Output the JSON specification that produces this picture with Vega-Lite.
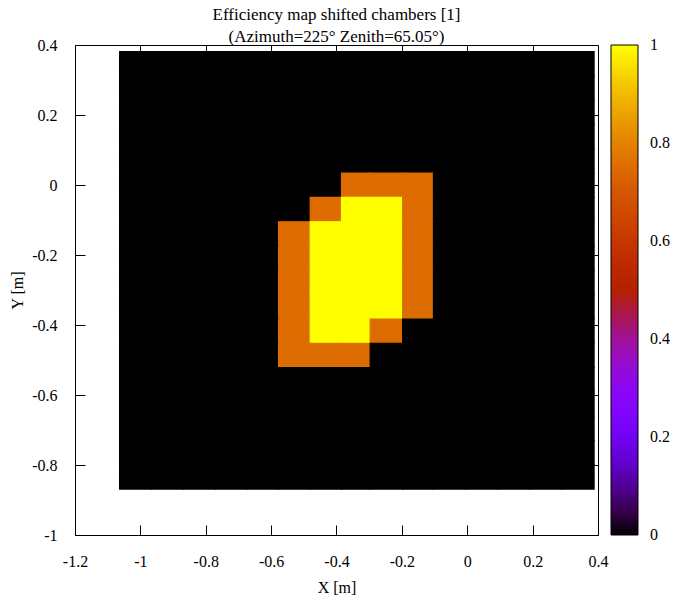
{
  "$schema": "https://vega.github.io/schema/vega-lite/v6.json",
  "autosize": "none",
  "width": 523,
  "height": 490,
  "padding": {"left": 75, "top": 45, "right": 81, "bottom": 61},
  "background": "white",
  "title": {
    "text": ["Efficiency map shifted chambers [1]", "(Azimuth=225° Zenith=65.05°)"],
    "font": "'Liberation Serif', serif",
    "fontSize": 17,
    "fontWeight": "normal",
    "color": "black",
    "lineHeight": 22,
    "anchor": "middle",
    "offset": -9
  },
  "config": {
    "font": "'Liberation Serif', serif",
    "view": {"stroke": "black", "strokeWidth": 1},
    "axis": {
      "labelFont": "'Liberation Serif', serif",
      "labelFontSize": 16,
      "labelColor": "black",
      "titleFont": "'Liberation Serif', serif",
      "titleFontSize": 16,
      "titleFontWeight": "normal",
      "titleColor": "black",
      "domain": false,
      "grid": false,
      "tickColor": "black",
      "tickSize": -10,
      "tickWidth": 1
    },
    "legend": {
      "labelFont": "'Liberation Serif', serif"
    }
  },
  "datasets": {
    "cols": [
      {"c": 0, "x1": -1.0636, "x2": -0.9664},
      {"c": 1, "x1": -0.9664, "x2": -0.8691},
      {"c": 2, "x1": -0.8691, "x2": -0.7719},
      {"c": 3, "x1": -0.7719, "x2": -0.6746},
      {"c": 4, "x1": -0.6746, "x2": -0.5774},
      {"c": 5, "x1": -0.5774, "x2": -0.4804},
      {"c": 6, "x1": -0.4804, "x2": -0.3847},
      {"c": 7, "x1": -0.3847, "x2": -0.2969},
      {"c": 8, "x1": -0.2969, "x2": -0.1976},
      {"c": 9, "x1": -0.1976, "x2": -0.1034},
      {"c": 10, "x1": -0.1034, "x2": -0.0051},
      {"c": 11, "x1": -0.0051, "x2": 0.0932},
      {"c": 12, "x1": 0.0932, "x2": 0.1915},
      {"c": 13, "x1": 0.1915, "x2": 0.2898},
      {"c": 14, "x1": 0.2898, "x2": 0.388}
    ],
    "rows": [
      {"r": 0, "y1": 0.381, "y2": 0.3116},
      {"r": 1, "y1": 0.3116, "y2": 0.2421},
      {"r": 2, "y1": 0.2421, "y2": 0.1727},
      {"r": 3, "y1": 0.1727, "y2": 0.1033},
      {"r": 4, "y1": 0.1033, "y2": 0.0338},
      {"r": 5, "y1": 0.0338, "y2": -0.0356},
      {"r": 6, "y1": -0.0356, "y2": -0.105},
      {"r": 7, "y1": -0.105, "y2": -0.1745},
      {"r": 8, "y1": -0.1745, "y2": -0.2439},
      {"r": 9, "y1": -0.2439, "y2": -0.3133},
      {"r": 10, "y1": -0.3133, "y2": -0.3828},
      {"r": 11, "y1": -0.3828, "y2": -0.4522},
      {"r": 12, "y1": -0.4522, "y2": -0.5216},
      {"r": 13, "y1": -0.5216, "y2": -0.5911},
      {"r": 14, "y1": -0.5911, "y2": -0.6605},
      {"r": 15, "y1": -0.6605, "y2": -0.7299},
      {"r": 16, "y1": -0.7299, "y2": -0.7994},
      {"r": 17, "y1": -0.7994, "y2": -0.8688}
    ],
    "cells": [
      {"r":0,"c":0,"v":0},{"r":0,"c":1,"v":0},{"r":0,"c":2,"v":0},{"r":0,"c":3,"v":0},{"r":0,"c":4,"v":0},{"r":0,"c":5,"v":0},{"r":0,"c":6,"v":0},{"r":0,"c":7,"v":0},{"r":0,"c":8,"v":0},{"r":0,"c":9,"v":0},{"r":0,"c":10,"v":0},{"r":0,"c":11,"v":0},{"r":0,"c":12,"v":0},{"r":0,"c":13,"v":0},{"r":0,"c":14,"v":0},
      {"r":1,"c":0,"v":0},{"r":1,"c":1,"v":0},{"r":1,"c":2,"v":0},{"r":1,"c":3,"v":0},{"r":1,"c":4,"v":0},{"r":1,"c":5,"v":0},{"r":1,"c":6,"v":0},{"r":1,"c":7,"v":0},{"r":1,"c":8,"v":0},{"r":1,"c":9,"v":0},{"r":1,"c":10,"v":0},{"r":1,"c":11,"v":0},{"r":1,"c":12,"v":0},{"r":1,"c":13,"v":0},{"r":1,"c":14,"v":0},
      {"r":2,"c":0,"v":0},{"r":2,"c":1,"v":0},{"r":2,"c":2,"v":0},{"r":2,"c":3,"v":0},{"r":2,"c":4,"v":0},{"r":2,"c":5,"v":0},{"r":2,"c":6,"v":0},{"r":2,"c":7,"v":0},{"r":2,"c":8,"v":0},{"r":2,"c":9,"v":0},{"r":2,"c":10,"v":0},{"r":2,"c":11,"v":0},{"r":2,"c":12,"v":0},{"r":2,"c":13,"v":0},{"r":2,"c":14,"v":0},
      {"r":3,"c":0,"v":0},{"r":3,"c":1,"v":0},{"r":3,"c":2,"v":0},{"r":3,"c":3,"v":0},{"r":3,"c":4,"v":0},{"r":3,"c":5,"v":0},{"r":3,"c":6,"v":0},{"r":3,"c":7,"v":0},{"r":3,"c":8,"v":0},{"r":3,"c":9,"v":0},{"r":3,"c":10,"v":0},{"r":3,"c":11,"v":0},{"r":3,"c":12,"v":0},{"r":3,"c":13,"v":0},{"r":3,"c":14,"v":0},
      {"r":4,"c":0,"v":0},{"r":4,"c":1,"v":0},{"r":4,"c":2,"v":0},{"r":4,"c":3,"v":0},{"r":4,"c":4,"v":0},{"r":4,"c":5,"v":0},{"r":4,"c":6,"v":0},{"r":4,"c":7,"v":0},{"r":4,"c":8,"v":0},{"r":4,"c":9,"v":0},{"r":4,"c":10,"v":0},{"r":4,"c":11,"v":0},{"r":4,"c":12,"v":0},{"r":4,"c":13,"v":0},{"r":4,"c":14,"v":0},
      {"r":5,"c":0,"v":0},{"r":5,"c":1,"v":0},{"r":5,"c":2,"v":0},{"r":5,"c":3,"v":0},{"r":5,"c":4,"v":0},{"r":5,"c":5,"v":0},{"r":5,"c":6,"v":0},{"r":5,"c":7,"v":0.75},{"r":5,"c":8,"v":0.75},{"r":5,"c":9,"v":0.75},{"r":5,"c":10,"v":0},{"r":5,"c":11,"v":0},{"r":5,"c":12,"v":0},{"r":5,"c":13,"v":0},{"r":5,"c":14,"v":0},
      {"r":6,"c":0,"v":0},{"r":6,"c":1,"v":0},{"r":6,"c":2,"v":0},{"r":6,"c":3,"v":0},{"r":6,"c":4,"v":0},{"r":6,"c":5,"v":0},{"r":6,"c":6,"v":0.75},{"r":6,"c":7,"v":1},{"r":6,"c":8,"v":1},{"r":6,"c":9,"v":0.75},{"r":6,"c":10,"v":0},{"r":6,"c":11,"v":0},{"r":6,"c":12,"v":0},{"r":6,"c":13,"v":0},{"r":6,"c":14,"v":0},
      {"r":7,"c":0,"v":0},{"r":7,"c":1,"v":0},{"r":7,"c":2,"v":0},{"r":7,"c":3,"v":0},{"r":7,"c":4,"v":0},{"r":7,"c":5,"v":0.75},{"r":7,"c":6,"v":1},{"r":7,"c":7,"v":1},{"r":7,"c":8,"v":1},{"r":7,"c":9,"v":0.75},{"r":7,"c":10,"v":0},{"r":7,"c":11,"v":0},{"r":7,"c":12,"v":0},{"r":7,"c":13,"v":0},{"r":7,"c":14,"v":0},
      {"r":8,"c":0,"v":0},{"r":8,"c":1,"v":0},{"r":8,"c":2,"v":0},{"r":8,"c":3,"v":0},{"r":8,"c":4,"v":0},{"r":8,"c":5,"v":0.75},{"r":8,"c":6,"v":1},{"r":8,"c":7,"v":1},{"r":8,"c":8,"v":1},{"r":8,"c":9,"v":0.75},{"r":8,"c":10,"v":0},{"r":8,"c":11,"v":0},{"r":8,"c":12,"v":0},{"r":8,"c":13,"v":0},{"r":8,"c":14,"v":0},
      {"r":9,"c":0,"v":0},{"r":9,"c":1,"v":0},{"r":9,"c":2,"v":0},{"r":9,"c":3,"v":0},{"r":9,"c":4,"v":0},{"r":9,"c":5,"v":0.75},{"r":9,"c":6,"v":1},{"r":9,"c":7,"v":1},{"r":9,"c":8,"v":1},{"r":9,"c":9,"v":0.75},{"r":9,"c":10,"v":0},{"r":9,"c":11,"v":0},{"r":9,"c":12,"v":0},{"r":9,"c":13,"v":0},{"r":9,"c":14,"v":0},
      {"r":10,"c":0,"v":0},{"r":10,"c":1,"v":0},{"r":10,"c":2,"v":0},{"r":10,"c":3,"v":0},{"r":10,"c":4,"v":0},{"r":10,"c":5,"v":0.75},{"r":10,"c":6,"v":1},{"r":10,"c":7,"v":1},{"r":10,"c":8,"v":1},{"r":10,"c":9,"v":0.75},{"r":10,"c":10,"v":0},{"r":10,"c":11,"v":0},{"r":10,"c":12,"v":0},{"r":10,"c":13,"v":0},{"r":10,"c":14,"v":0},
      {"r":11,"c":0,"v":0},{"r":11,"c":1,"v":0},{"r":11,"c":2,"v":0},{"r":11,"c":3,"v":0},{"r":11,"c":4,"v":0},{"r":11,"c":5,"v":0.75},{"r":11,"c":6,"v":1},{"r":11,"c":7,"v":1},{"r":11,"c":8,"v":0.75},{"r":11,"c":9,"v":0},{"r":11,"c":10,"v":0},{"r":11,"c":11,"v":0},{"r":11,"c":12,"v":0},{"r":11,"c":13,"v":0},{"r":11,"c":14,"v":0},
      {"r":12,"c":0,"v":0},{"r":12,"c":1,"v":0},{"r":12,"c":2,"v":0},{"r":12,"c":3,"v":0},{"r":12,"c":4,"v":0},{"r":12,"c":5,"v":0.75},{"r":12,"c":6,"v":0.75},{"r":12,"c":7,"v":0.75},{"r":12,"c":8,"v":0},{"r":12,"c":9,"v":0},{"r":12,"c":10,"v":0},{"r":12,"c":11,"v":0},{"r":12,"c":12,"v":0},{"r":12,"c":13,"v":0},{"r":12,"c":14,"v":0},
      {"r":13,"c":0,"v":0},{"r":13,"c":1,"v":0},{"r":13,"c":2,"v":0},{"r":13,"c":3,"v":0},{"r":13,"c":4,"v":0},{"r":13,"c":5,"v":0},{"r":13,"c":6,"v":0},{"r":13,"c":7,"v":0},{"r":13,"c":8,"v":0},{"r":13,"c":9,"v":0},{"r":13,"c":10,"v":0},{"r":13,"c":11,"v":0},{"r":13,"c":12,"v":0},{"r":13,"c":13,"v":0},{"r":13,"c":14,"v":0},
      {"r":14,"c":0,"v":0},{"r":14,"c":1,"v":0},{"r":14,"c":2,"v":0},{"r":14,"c":3,"v":0},{"r":14,"c":4,"v":0},{"r":14,"c":5,"v":0},{"r":14,"c":6,"v":0},{"r":14,"c":7,"v":0},{"r":14,"c":8,"v":0},{"r":14,"c":9,"v":0},{"r":14,"c":10,"v":0},{"r":14,"c":11,"v":0},{"r":14,"c":12,"v":0},{"r":14,"c":13,"v":0},{"r":14,"c":14,"v":0},
      {"r":15,"c":0,"v":0},{"r":15,"c":1,"v":0},{"r":15,"c":2,"v":0},{"r":15,"c":3,"v":0},{"r":15,"c":4,"v":0},{"r":15,"c":5,"v":0},{"r":15,"c":6,"v":0},{"r":15,"c":7,"v":0},{"r":15,"c":8,"v":0},{"r":15,"c":9,"v":0},{"r":15,"c":10,"v":0},{"r":15,"c":11,"v":0},{"r":15,"c":12,"v":0},{"r":15,"c":13,"v":0},{"r":15,"c":14,"v":0},
      {"r":16,"c":0,"v":0},{"r":16,"c":1,"v":0},{"r":16,"c":2,"v":0},{"r":16,"c":3,"v":0},{"r":16,"c":4,"v":0},{"r":16,"c":5,"v":0},{"r":16,"c":6,"v":0},{"r":16,"c":7,"v":0},{"r":16,"c":8,"v":0},{"r":16,"c":9,"v":0},{"r":16,"c":10,"v":0},{"r":16,"c":11,"v":0},{"r":16,"c":12,"v":0},{"r":16,"c":13,"v":0},{"r":16,"c":14,"v":0},
      {"r":17,"c":0,"v":0},{"r":17,"c":1,"v":0},{"r":17,"c":2,"v":0},{"r":17,"c":3,"v":0},{"r":17,"c":4,"v":0},{"r":17,"c":5,"v":0},{"r":17,"c":6,"v":0},{"r":17,"c":7,"v":0},{"r":17,"c":8,"v":0},{"r":17,"c":9,"v":0},{"r":17,"c":10,"v":0},{"r":17,"c":11,"v":0},{"r":17,"c":12,"v":0},{"r":17,"c":13,"v":0},{"r":17,"c":14,"v":0}
    ]
  },
  "data": {"name": "cells"},
  "transform": [
    {"lookup": "c", "from": {"data": {"name": "cols"}, "key": "c", "fields": ["x1", "x2"]}},
    {"lookup": "r", "from": {"data": {"name": "rows"}, "key": "r", "fields": ["y1", "y2"]}}
  ],
  "layer": [
    {
      "mark": {"type": "rect", "strokeWidth": 1.2, "stroke": {"expr": "scale('color', datum.v)"}},
      "encoding": {
        "x": {
          "field": "x1", "type": "quantitative",
          "scale": {"domain": [-1.2, 0.4], "nice": false, "zero": false},
          "axis": {
            "orient": "bottom",
            "values": [-1.2, -1, -0.8, -0.6, -0.4, -0.2, 0, 0.2, 0.4],
            "labelExpr": "replace(format(datum.value, '~g'), '\u2212', '-')",
            "labelFont": "'Liberation Serif', serif",
            "labelPadding": 28,
            "labelFlush": false,
            "labelOverlap": false,
            "title": "X [m]",
            "titlePadding": 10
          }
        },
        "x2": {"field": "x2"},
        "y": {
          "field": "y1", "type": "quantitative",
          "scale": {"domain": [-1, 0.4], "nice": false, "zero": false},
          "axis": {
            "orient": "left",
            "values": [-1, -0.8, -0.6, -0.4, -0.2, 0, 0.2, 0.4],
            "labelExpr": "replace(format(datum.value, '~g'), '\u2212', '-')",
            "labelFont": "'Liberation Serif', serif",
            "labelPadding": 28,
            "labelFlush": false,
            "labelOverlap": false,
            "title": "Y [m]",
            "titlePadding": 6
          }
        },
        "y2": {"field": "y2"},
        "color": {
          "field": "v", "type": "quantitative",
          "scale": {
            "domain": [0, 1],
            "interpolate": "rgb",
            "range": ["#000000", "#39004F", "#510096", "#6301CE", "#7202F3", "#8004FF", "#8C07F3", "#970BCE", "#A11096", "#AB174F", "#B42000", "#BD2A00", "#C63700", "#CE4600", "#D55700", "#DD6C00", "#E48300", "#EB9D00", "#F2BA00", "#F9DB00", "#FFFF00"]
          },
          "legend": {
            "type": "gradient",
            "orient": "none",
            "legendX": 536,
            "legendY": 0,
            "direction": "vertical",
            "gradientLength": 490,
            "gradientThickness": 27,
            "gradientStrokeColor": "black",
            "gradientStrokeWidth": 1,
            "values": [0, 0.2, 0.4, 0.6, 0.8, 1],
            "format": "~g",
            "labelFont": "'Liberation Serif', serif",
            "labelFontSize": 16,
            "labelColor": "black",
            "labelBaseline": "middle",
            "labelOffset": 12,
            "labelOverlap": false,
            "title": null,
            "padding": 0,
            "encode": {"labels": {"update": {"baseline": {"value": "middle"}}}}
          }
        }
      }
    },
    {
      "mark": {"type": "rect", "opacity": 0},
      "encoding": {
        "x": {
          "field": "x1", "type": "quantitative",
          "axis": {"orient": "top", "values": [-1, -0.8, -0.6, -0.4, -0.2, 0, 0.2], "labels": false, "title": null}
        },
        "x2": {"field": "x2"},
        "y": {
          "field": "y1", "type": "quantitative",
          "axis": {"orient": "right", "values": [-0.8, -0.6, -0.4, -0.2, 0, 0.2], "labels": false, "title": null}
        },
        "y2": {"field": "y2"}
      }
    }
  ],
  "resolve": {"axis": {"x": "independent", "y": "independent"}}
}
